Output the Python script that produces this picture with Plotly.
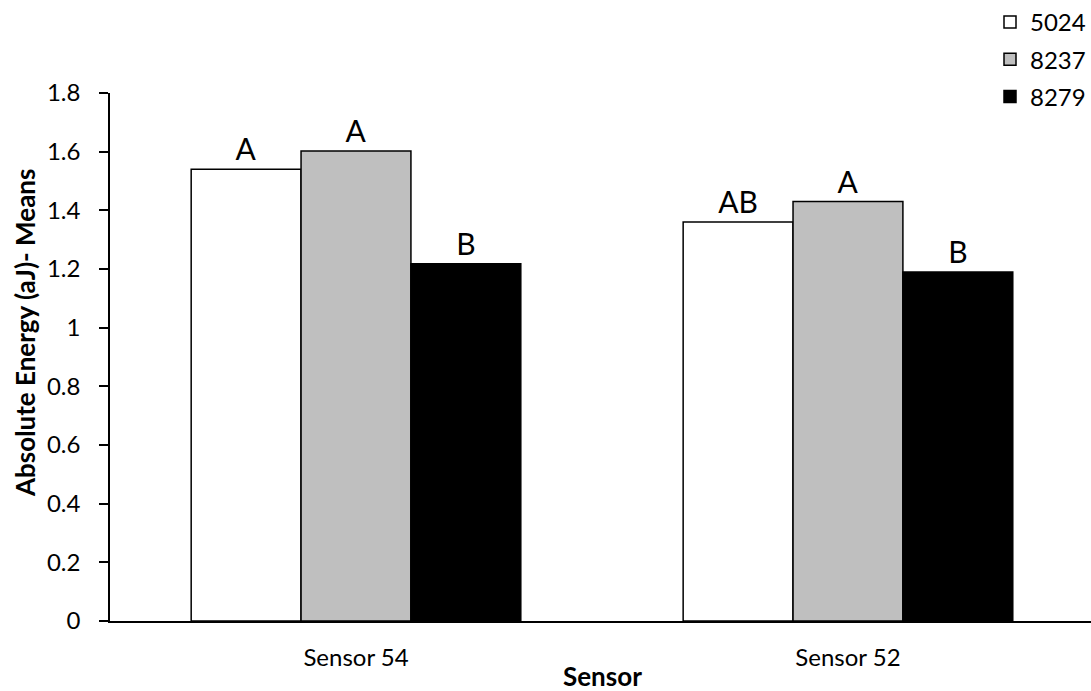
import plotly.graph_objects as go

categories = ["Sensor 54", "Sensor 52"]
series_names = ["5024", "8237", "8279"]
values_5024 = [1.54, 1.36]
values_8237 = [1.602, 1.43]
values_8279 = [1.218, 1.19]
letters_5024 = ["A", "AB"]
letters_8237 = ["A", "A"]
letters_8279 = ["B", "B"]
y_ticks = [0, 0.2, 0.4, 0.6, 0.8, 1, 1.2, 1.4, 1.6, 1.8]
y_tick_text = ["0", "0.2", "0.4", "0.6", "0.8", "1", "1.2", "1.4", "1.6", "1.8"]

colors = ["#FFFFFF", "#BFBFBF", "#000000"]
FONT = "Lato, Calibri, Carlito, sans-serif"

W, H = 1091, 691
L, R, T, B = 110, 0, 93, 70
PW, PH = W - L - R, H - T - B

fig = go.Figure()
for name, vals, letters, col in zip(series_names,
                                    [values_5024, values_8237, values_8279],
                                    [letters_5024, letters_8237, letters_8279],
                                    colors):
    fig.add_trace(go.Bar(
        x=categories, y=vals, name=name, legendgroup=name,
        marker=dict(color=col, line=dict(color="#000000", width=1.5)),
        text=letters, textposition="outside", cliponaxis=False,
        textfont=dict(size=30, color="#000000", family=FONT),
    ))

fig.update_layout(
    width=W, height=H,
    barmode="group", bargap=0.33, bargroupgap=0,
    plot_bgcolor="white", paper_bgcolor="white",
    margin=dict(l=L, r=R, t=T, b=B),
    font=dict(family=FONT, size=24, color="#000000"),
    showlegend=True,
    legend=dict(x=(990 - L) / PW, y=1 + T / PH, xanchor="left", yanchor="top",
                font=dict(size=24, family=FONT), bgcolor="rgba(0,0,0,0)",
                traceorder="grouped", tracegroupgap=3, itemwidth=30),
)
fig.update_xaxes(
    range=[-0.5, 1.494], showline=True, linecolor="#000000", linewidth=1.5,
    ticks="", tickfont=dict(size=24), showgrid=False, ticklabelstandoff=14,
)
fig.update_yaxes(
    range=[0, 1.8], tickvals=y_ticks, ticktext=y_tick_text,
    showline=True, linecolor="#000000", linewidth=1.5,
    ticks="outside", ticklen=9, tickwidth=1.5, tickcolor="#000000",
    tickfont=dict(size=24), showgrid=False, zeroline=False, ticklabelstandoff=14,
)
fig.add_annotation(text="<b>Sensor</b>", xref="paper", yref="paper",
                   x=(602 - L) / PW, y=-(676 - (T + PH)) / PH, xanchor="center", yanchor="middle",
                   showarrow=False, font=dict(size=26, family=FONT))
fig.add_annotation(text="<b>Absolute Energy (aJ)- Means</b>", xref="paper", yref="paper",
                   x=-(L - 25) / PW, y=(621 - 333) / PH, xanchor="center", yanchor="middle", textangle=-90,
                   showarrow=False, font=dict(size=26, family=FONT))

fig.write_html("out.html", config={"displayModeBar": False},
               post_script="document.body.style.margin='0';")
